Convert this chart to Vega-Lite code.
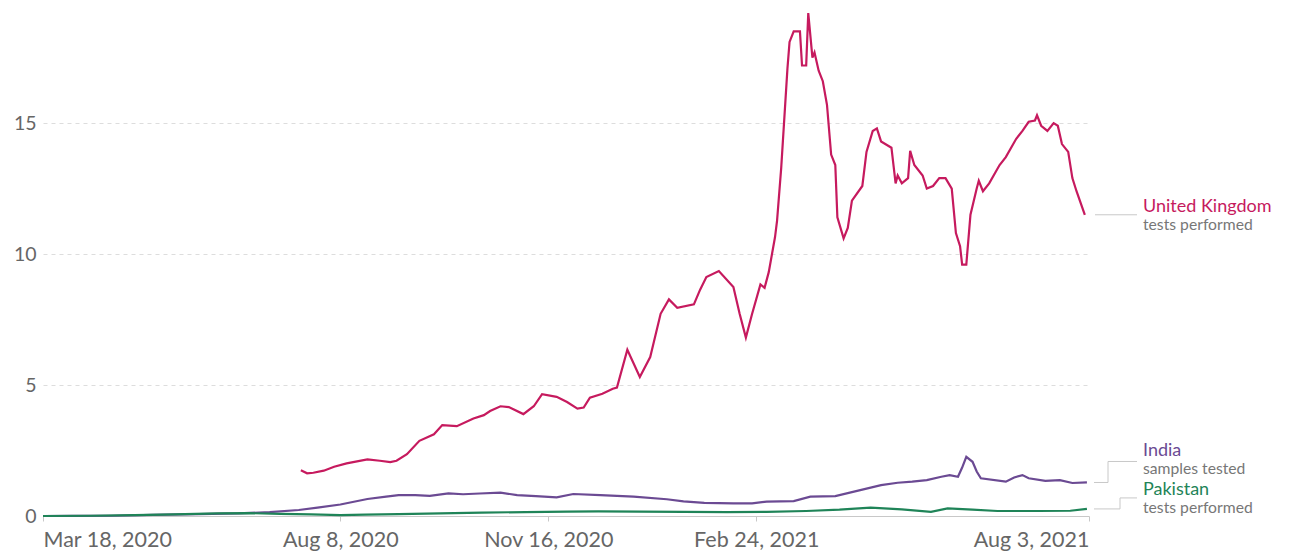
{
  "$schema": "https://vega.github.io/schema/vega-lite/v6.json",
  "width": 1046,
  "height": 516,
  "autosize": {"type": "none"},
  "padding": {"left": 43, "top": 0, "right": 201, "bottom": 38},
  "background": "white",
  "config": {
    "view": {"stroke": null},
    "font": "Lato",
    "text": {"font": "Lato"}
  },
  "datasets": {
    "series": [
      {"country": "United Kingdom", "date": "2020-07-20", "value": 1.75},
      {"country": "United Kingdom", "date": "2020-07-23", "value": 1.63},
      {"country": "United Kingdom", "date": "2020-07-26", "value": 1.65},
      {"country": "United Kingdom", "date": "2020-07-31", "value": 1.73},
      {"country": "United Kingdom", "date": "2020-08-05", "value": 1.88},
      {"country": "United Kingdom", "date": "2020-08-11", "value": 2.01},
      {"country": "United Kingdom", "date": "2020-08-21", "value": 2.16},
      {"country": "United Kingdom", "date": "2020-08-27", "value": 2.11},
      {"country": "United Kingdom", "date": "2020-09-01", "value": 2.06},
      {"country": "United Kingdom", "date": "2020-09-04", "value": 2.11},
      {"country": "United Kingdom", "date": "2020-09-09", "value": 2.36},
      {"country": "United Kingdom", "date": "2020-09-15", "value": 2.87},
      {"country": "United Kingdom", "date": "2020-09-22", "value": 3.12},
      {"country": "United Kingdom", "date": "2020-09-26", "value": 3.47},
      {"country": "United Kingdom", "date": "2020-10-03", "value": 3.43},
      {"country": "United Kingdom", "date": "2020-10-11", "value": 3.72},
      {"country": "United Kingdom", "date": "2020-10-16", "value": 3.85},
      {"country": "United Kingdom", "date": "2020-10-19", "value": 4.01},
      {"country": "United Kingdom", "date": "2020-10-24", "value": 4.19},
      {"country": "United Kingdom", "date": "2020-10-28", "value": 4.16},
      {"country": "United Kingdom", "date": "2020-11-04", "value": 3.89},
      {"country": "United Kingdom", "date": "2020-11-09", "value": 4.19},
      {"country": "United Kingdom", "date": "2020-11-13", "value": 4.65},
      {"country": "United Kingdom", "date": "2020-11-20", "value": 4.55},
      {"country": "United Kingdom", "date": "2020-11-25", "value": 4.35},
      {"country": "United Kingdom", "date": "2020-11-30", "value": 4.10},
      {"country": "United Kingdom", "date": "2020-12-03", "value": 4.14},
      {"country": "United Kingdom", "date": "2020-12-06", "value": 4.52},
      {"country": "United Kingdom", "date": "2020-12-12", "value": 4.67},
      {"country": "United Kingdom", "date": "2020-12-17", "value": 4.86},
      {"country": "United Kingdom", "date": "2020-12-19", "value": 4.90},
      {"country": "United Kingdom", "date": "2020-12-24", "value": 6.35},
      {"country": "United Kingdom", "date": "2020-12-30", "value": 5.31},
      {"country": "United Kingdom", "date": "2021-01-04", "value": 6.07},
      {"country": "United Kingdom", "date": "2021-01-09", "value": 7.72},
      {"country": "United Kingdom", "date": "2021-01-13", "value": 8.27},
      {"country": "United Kingdom", "date": "2021-01-17", "value": 7.95},
      {"country": "United Kingdom", "date": "2021-01-25", "value": 8.08},
      {"country": "United Kingdom", "date": "2021-01-28", "value": 8.64},
      {"country": "United Kingdom", "date": "2021-01-31", "value": 9.12},
      {"country": "United Kingdom", "date": "2021-02-06", "value": 9.35},
      {"country": "United Kingdom", "date": "2021-02-13", "value": 8.74},
      {"country": "United Kingdom", "date": "2021-02-16", "value": 7.72},
      {"country": "United Kingdom", "date": "2021-02-19", "value": 6.81},
      {"country": "United Kingdom", "date": "2021-02-22", "value": 7.72},
      {"country": "United Kingdom", "date": "2021-02-26", "value": 8.84},
      {"country": "United Kingdom", "date": "2021-02-28", "value": 8.71},
      {"country": "United Kingdom", "date": "2021-03-02", "value": 9.31},
      {"country": "United Kingdom", "date": "2021-03-05", "value": 10.64},
      {"country": "United Kingdom", "date": "2021-03-06", "value": 11.28},
      {"country": "United Kingdom", "date": "2021-03-08", "value": 13.3},
      {"country": "United Kingdom", "date": "2021-03-11", "value": 17.1},
      {"country": "United Kingdom", "date": "2021-03-12", "value": 18.1},
      {"country": "United Kingdom", "date": "2021-03-14", "value": 18.5},
      {"country": "United Kingdom", "date": "2021-03-17", "value": 18.5},
      {"country": "United Kingdom", "date": "2021-03-18", "value": 17.2},
      {"country": "United Kingdom", "date": "2021-03-20", "value": 17.2},
      {"country": "United Kingdom", "date": "2021-03-21", "value": 19.2},
      {"country": "United Kingdom", "date": "2021-03-23", "value": 17.5},
      {"country": "United Kingdom", "date": "2021-03-24", "value": 17.7},
      {"country": "United Kingdom", "date": "2021-03-26", "value": 17.0},
      {"country": "United Kingdom", "date": "2021-03-28", "value": 16.6},
      {"country": "United Kingdom", "date": "2021-03-30", "value": 15.7},
      {"country": "United Kingdom", "date": "2021-04-01", "value": 13.8},
      {"country": "United Kingdom", "date": "2021-04-03", "value": 13.4},
      {"country": "United Kingdom", "date": "2021-04-04", "value": 11.4},
      {"country": "United Kingdom", "date": "2021-04-07", "value": 10.6},
      {"country": "United Kingdom", "date": "2021-04-09", "value": 11.0},
      {"country": "United Kingdom", "date": "2021-04-11", "value": 12.04},
      {"country": "United Kingdom", "date": "2021-04-16", "value": 12.6},
      {"country": "United Kingdom", "date": "2021-04-18", "value": 13.9},
      {"country": "United Kingdom", "date": "2021-04-21", "value": 14.7},
      {"country": "United Kingdom", "date": "2021-04-23", "value": 14.8},
      {"country": "United Kingdom", "date": "2021-04-25", "value": 14.3},
      {"country": "United Kingdom", "date": "2021-04-30", "value": 14.06},
      {"country": "United Kingdom", "date": "2021-05-02", "value": 12.7},
      {"country": "United Kingdom", "date": "2021-05-03", "value": 13.0},
      {"country": "United Kingdom", "date": "2021-05-05", "value": 12.7},
      {"country": "United Kingdom", "date": "2021-05-08", "value": 12.9},
      {"country": "United Kingdom", "date": "2021-05-09", "value": 13.94},
      {"country": "United Kingdom", "date": "2021-05-11", "value": 13.4},
      {"country": "United Kingdom", "date": "2021-05-15", "value": 13.0},
      {"country": "United Kingdom", "date": "2021-05-17", "value": 12.5},
      {"country": "United Kingdom", "date": "2021-05-20", "value": 12.6},
      {"country": "United Kingdom", "date": "2021-05-23", "value": 12.9},
      {"country": "United Kingdom", "date": "2021-05-26", "value": 12.9},
      {"country": "United Kingdom", "date": "2021-05-29", "value": 12.5},
      {"country": "United Kingdom", "date": "2021-05-31", "value": 10.8},
      {"country": "United Kingdom", "date": "2021-06-02", "value": 10.3},
      {"country": "United Kingdom", "date": "2021-06-03", "value": 9.6},
      {"country": "United Kingdom", "date": "2021-06-05", "value": 9.6},
      {"country": "United Kingdom", "date": "2021-06-07", "value": 11.5},
      {"country": "United Kingdom", "date": "2021-06-10", "value": 12.5},
      {"country": "United Kingdom", "date": "2021-06-11", "value": 12.8},
      {"country": "United Kingdom", "date": "2021-06-13", "value": 12.4},
      {"country": "United Kingdom", "date": "2021-06-16", "value": 12.7},
      {"country": "United Kingdom", "date": "2021-06-21", "value": 13.4},
      {"country": "United Kingdom", "date": "2021-06-24", "value": 13.7},
      {"country": "United Kingdom", "date": "2021-06-29", "value": 14.4},
      {"country": "United Kingdom", "date": "2021-07-02", "value": 14.7},
      {"country": "United Kingdom", "date": "2021-07-05", "value": 15.05},
      {"country": "United Kingdom", "date": "2021-07-08", "value": 15.1},
      {"country": "United Kingdom", "date": "2021-07-09", "value": 15.3},
      {"country": "United Kingdom", "date": "2021-07-11", "value": 14.9},
      {"country": "United Kingdom", "date": "2021-07-14", "value": 14.7},
      {"country": "United Kingdom", "date": "2021-07-17", "value": 15.0},
      {"country": "United Kingdom", "date": "2021-07-19", "value": 14.9},
      {"country": "United Kingdom", "date": "2021-07-21", "value": 14.2},
      {"country": "United Kingdom", "date": "2021-07-24", "value": 13.9},
      {"country": "United Kingdom", "date": "2021-07-26", "value": 12.9},
      {"country": "United Kingdom", "date": "2021-07-28", "value": 12.4},
      {"country": "United Kingdom", "date": "2021-08-01", "value": 11.5},

      {"country": "India", "date": "2020-03-18", "value": 0.0},
      {"country": "India", "date": "2020-04-01", "value": 0.003},
      {"country": "India", "date": "2020-04-20", "value": 0.01},
      {"country": "India", "date": "2020-05-10", "value": 0.04},
      {"country": "India", "date": "2020-06-01", "value": 0.07},
      {"country": "India", "date": "2020-06-20", "value": 0.1},
      {"country": "India", "date": "2020-07-05", "value": 0.15},
      {"country": "India", "date": "2020-07-19", "value": 0.23},
      {"country": "India", "date": "2020-07-28", "value": 0.32},
      {"country": "India", "date": "2020-08-08", "value": 0.44},
      {"country": "India", "date": "2020-08-21", "value": 0.65},
      {"country": "India", "date": "2020-08-30", "value": 0.74},
      {"country": "India", "date": "2020-09-05", "value": 0.8},
      {"country": "India", "date": "2020-09-13", "value": 0.8},
      {"country": "India", "date": "2020-09-20", "value": 0.77},
      {"country": "India", "date": "2020-09-29", "value": 0.86},
      {"country": "India", "date": "2020-10-06", "value": 0.83},
      {"country": "India", "date": "2020-10-14", "value": 0.86},
      {"country": "India", "date": "2020-10-24", "value": 0.89},
      {"country": "India", "date": "2020-11-01", "value": 0.8},
      {"country": "India", "date": "2020-11-10", "value": 0.76},
      {"country": "India", "date": "2020-11-20", "value": 0.71},
      {"country": "India", "date": "2020-11-28", "value": 0.84},
      {"country": "India", "date": "2020-12-11", "value": 0.8},
      {"country": "India", "date": "2020-12-27", "value": 0.74},
      {"country": "India", "date": "2021-01-12", "value": 0.64},
      {"country": "India", "date": "2021-01-20", "value": 0.56},
      {"country": "India", "date": "2021-01-30", "value": 0.5},
      {"country": "India", "date": "2021-02-13", "value": 0.48},
      {"country": "India", "date": "2021-02-22", "value": 0.48},
      {"country": "India", "date": "2021-03-01", "value": 0.55},
      {"country": "India", "date": "2021-03-14", "value": 0.57},
      {"country": "India", "date": "2021-03-22", "value": 0.74},
      {"country": "India", "date": "2021-04-03", "value": 0.76},
      {"country": "India", "date": "2021-04-15", "value": 0.99},
      {"country": "India", "date": "2021-04-25", "value": 1.18},
      {"country": "India", "date": "2021-05-03", "value": 1.27},
      {"country": "India", "date": "2021-05-10", "value": 1.31},
      {"country": "India", "date": "2021-05-17", "value": 1.37},
      {"country": "India", "date": "2021-05-24", "value": 1.5},
      {"country": "India", "date": "2021-05-28", "value": 1.56},
      {"country": "India", "date": "2021-06-01", "value": 1.5},
      {"country": "India", "date": "2021-06-03", "value": 1.85},
      {"country": "India", "date": "2021-06-05", "value": 2.26},
      {"country": "India", "date": "2021-06-08", "value": 2.07},
      {"country": "India", "date": "2021-06-10", "value": 1.7},
      {"country": "India", "date": "2021-06-12", "value": 1.44},
      {"country": "India", "date": "2021-06-24", "value": 1.31},
      {"country": "India", "date": "2021-06-28", "value": 1.47},
      {"country": "India", "date": "2021-07-02", "value": 1.56},
      {"country": "India", "date": "2021-07-05", "value": 1.44},
      {"country": "India", "date": "2021-07-13", "value": 1.34},
      {"country": "India", "date": "2021-07-20", "value": 1.37},
      {"country": "India", "date": "2021-07-26", "value": 1.26},
      {"country": "India", "date": "2021-08-02", "value": 1.28},

      {"country": "Pakistan", "date": "2020-03-18", "value": 0.0},
      {"country": "Pakistan", "date": "2020-04-10", "value": 0.01},
      {"country": "Pakistan", "date": "2020-05-01", "value": 0.03},
      {"country": "Pakistan", "date": "2020-05-20", "value": 0.06},
      {"country": "Pakistan", "date": "2020-06-10", "value": 0.1},
      {"country": "Pakistan", "date": "2020-06-25", "value": 0.11},
      {"country": "Pakistan", "date": "2020-07-10", "value": 0.08},
      {"country": "Pakistan", "date": "2020-07-25", "value": 0.06},
      {"country": "Pakistan", "date": "2020-08-08", "value": 0.03},
      {"country": "Pakistan", "date": "2020-08-20", "value": 0.05},
      {"country": "Pakistan", "date": "2020-09-05", "value": 0.07},
      {"country": "Pakistan", "date": "2020-09-25", "value": 0.1},
      {"country": "Pakistan", "date": "2020-10-15", "value": 0.13},
      {"country": "Pakistan", "date": "2020-11-05", "value": 0.15},
      {"country": "Pakistan", "date": "2020-11-25", "value": 0.17},
      {"country": "Pakistan", "date": "2020-12-10", "value": 0.18},
      {"country": "Pakistan", "date": "2020-12-30", "value": 0.17},
      {"country": "Pakistan", "date": "2021-01-20", "value": 0.16},
      {"country": "Pakistan", "date": "2021-02-10", "value": 0.15},
      {"country": "Pakistan", "date": "2021-03-01", "value": 0.16},
      {"country": "Pakistan", "date": "2021-03-20", "value": 0.19},
      {"country": "Pakistan", "date": "2021-04-05", "value": 0.24},
      {"country": "Pakistan", "date": "2021-04-20", "value": 0.32},
      {"country": "Pakistan", "date": "2021-05-05", "value": 0.25},
      {"country": "Pakistan", "date": "2021-05-19", "value": 0.16},
      {"country": "Pakistan", "date": "2021-05-27", "value": 0.29},
      {"country": "Pakistan", "date": "2021-06-08", "value": 0.24},
      {"country": "Pakistan", "date": "2021-06-20", "value": 0.19},
      {"country": "Pakistan", "date": "2021-07-10", "value": 0.19},
      {"country": "Pakistan", "date": "2021-07-25", "value": 0.2},
      {"country": "Pakistan", "date": "2021-08-02", "value": 0.27}
    ],
    "labels": [
      {"country": "United Kingdom", "date": "2021-08-03", "value": 11.5, "name": "United Kingdom", "metric": "tests performed"},
      {"country": "India", "date": "2021-08-03", "value": 1.28, "name": "India", "metric": "samples tested"},
      {"country": "Pakistan", "date": "2021-08-03", "value": 0.27, "name": "Pakistan", "metric": "tests performed"}
    ]
  },
  "layer": [
    {
      "data": {"name": "series"},
      "mark": {"type": "line", "strokeWidth": 2.2, "interpolate": "linear"},
      "encoding": {
        "x": {
          "field": "date",
          "type": "temporal",
          "scale": {
            "type": "utc",
            "domain": [
              {"year": 2020, "month": 3, "date": 18, "utc": true},
              {"year": 2021, "month": 8, "date": 3, "utc": true}
            ]
          },
          "axis": {
            "title": null,
            "values": [
              {"year": 2020, "month": 3, "date": 18, "utc": true},
              {"year": 2020, "month": 8, "date": 8, "utc": true},
              {"year": 2020, "month": 11, "date": 16, "utc": true},
              {"year": 2021, "month": 2, "date": 24, "utc": true},
              {"year": 2021, "month": 8, "date": 3, "utc": true}
            ],
            "format": "%b %-d, %Y",
            "labelFlush": true,
            "labelOverlap": false,
            "grid": false,
            "domainColor": "#c8c8c8",
            "tickColor": "#c8c8c8",
            "tickSize": 5,
            "labelPadding": 8,
            "labelFont": "Lato",
            "labelFontSize": 21.5,
            "labelColor": "#666666"
          }
        },
        "y": {
          "field": "value",
          "type": "quantitative",
          "scale": {"domain": [0, 19.7], "nice": false, "zero": true},
          "axis": {
            "title": null,
            "values": [0, 5, 10, 15],
            "domain": false,
            "ticks": false,
            "grid": true,
            "gridColor": "#dddddd",
            "gridDash": [4, 4],
            "labelPadding": 7,
            "labelFont": "Lato",
            "labelFontSize": 19.5,
            "labelColor": "#666666"
          }
        },
        "color": {
          "field": "country",
          "type": "nominal",
          "scale": {
            "domain": ["United Kingdom", "India", "Pakistan"],
            "range": ["#c61a5e", "#6b4a93", "#1f8458"]
          },
          "legend": null
        },
        "detail": {"field": "country"}
      }
    },
    {
      "data": {"name": "labels"},
      "transform": [{"filter": "datum.country === 'United Kingdom'"}],
      "layer": [
        {
          "mark": {"type": "rule", "color": "#c8c8c8", "strokeWidth": 1, "xOffset": 6, "x2Offset": 48},
          "encoding": {
            "x": {"field": "date", "type": "temporal"},
            "x2": {"field": "date"},
            "y": {"field": "value", "type": "quantitative"}
          }
        },
        {
          "mark": {"type": "text", "align": "left", "baseline": "middle", "dx": 54, "dy": -8, "fontSize": 18},
          "encoding": {
            "x": {"field": "date", "type": "temporal"},
            "y": {"field": "value", "type": "quantitative"},
            "text": {"field": "name"},
            "color": {"field": "country", "type": "nominal", "legend": null}
          }
        },
        {
          "mark": {"type": "text", "align": "left", "baseline": "middle", "dx": 54, "dy": 10, "fontSize": 15.7, "color": "#777777"},
          "encoding": {
            "x": {"field": "date", "type": "temporal"},
            "y": {"field": "value", "type": "quantitative"},
            "text": {"field": "metric"}
          }
        }
      ]
    },
    {
      "data": {"name": "labels"},
      "transform": [{"filter": "datum.country === 'India'"}],
      "layer": [
        {
          "mark": {"type": "rule", "color": "#c8c8c8", "strokeWidth": 1, "xOffset": 5, "x2Offset": 19},
          "encoding": {
            "x": {"field": "date", "type": "temporal"},
            "x2": {"field": "date"},
            "y": {"field": "value", "type": "quantitative"}
          }
        },
        {
          "mark": {"type": "rule", "color": "#c8c8c8", "strokeWidth": 1, "xOffset": 19, "y2Offset": -21},
          "encoding": {
            "x": {"field": "date", "type": "temporal"},
            "y": {"field": "value", "type": "quantitative"},
            "y2": {"field": "value"}
          }
        },
        {
          "mark": {"type": "rule", "color": "#c8c8c8", "strokeWidth": 1, "xOffset": 19, "x2Offset": 48, "yOffset": -21},
          "encoding": {
            "x": {"field": "date", "type": "temporal"},
            "x2": {"field": "date"},
            "y": {"field": "value", "type": "quantitative"}
          }
        },
        {
          "mark": {"type": "text", "align": "left", "baseline": "middle", "dx": 54, "dy": -31, "fontSize": 18},
          "encoding": {
            "x": {"field": "date", "type": "temporal"},
            "y": {"field": "value", "type": "quantitative"},
            "text": {"field": "name"},
            "color": {"field": "country", "type": "nominal", "legend": null}
          }
        },
        {
          "mark": {"type": "text", "align": "left", "baseline": "middle", "dx": 54, "dy": -13, "fontSize": 15.7, "color": "#777777"},
          "encoding": {
            "x": {"field": "date", "type": "temporal"},
            "y": {"field": "value", "type": "quantitative"},
            "text": {"field": "metric"}
          }
        }
      ]
    },
    {
      "data": {"name": "labels"},
      "transform": [{"filter": "datum.country === 'Pakistan'"}],
      "layer": [
        {
          "mark": {"type": "rule", "color": "#c8c8c8", "strokeWidth": 1, "xOffset": 5, "x2Offset": 31},
          "encoding": {
            "x": {"field": "date", "type": "temporal"},
            "x2": {"field": "date"},
            "y": {"field": "value", "type": "quantitative"}
          }
        },
        {
          "mark": {"type": "rule", "color": "#c8c8c8", "strokeWidth": 1, "xOffset": 31, "y2Offset": -11},
          "encoding": {
            "x": {"field": "date", "type": "temporal"},
            "y": {"field": "value", "type": "quantitative"},
            "y2": {"field": "value"}
          }
        },
        {
          "mark": {"type": "rule", "color": "#c8c8c8", "strokeWidth": 1, "xOffset": 31, "x2Offset": 48, "yOffset": -11},
          "encoding": {
            "x": {"field": "date", "type": "temporal"},
            "x2": {"field": "date"},
            "y": {"field": "value", "type": "quantitative"}
          }
        },
        {
          "mark": {"type": "text", "align": "left", "baseline": "middle", "dx": 54, "dy": -19, "fontSize": 18},
          "encoding": {
            "x": {"field": "date", "type": "temporal"},
            "y": {"field": "value", "type": "quantitative"},
            "text": {"field": "name"},
            "color": {"field": "country", "type": "nominal", "legend": null}
          }
        },
        {
          "mark": {"type": "text", "align": "left", "baseline": "middle", "dx": 54, "dy": -1, "fontSize": 15.7, "color": "#777777"},
          "encoding": {
            "x": {"field": "date", "type": "temporal"},
            "y": {"field": "value", "type": "quantitative"},
            "text": {"field": "metric"}
          }
        }
      ]
    }
  ]
}
